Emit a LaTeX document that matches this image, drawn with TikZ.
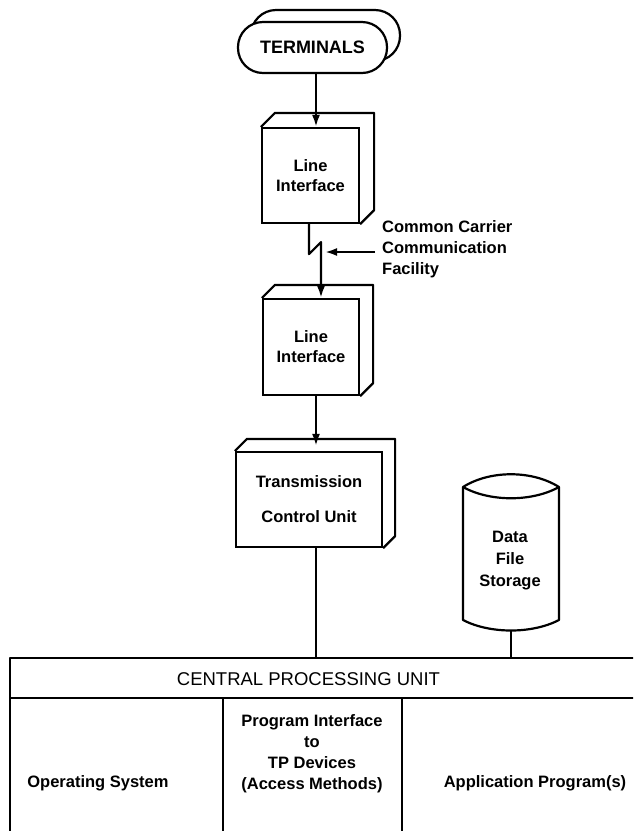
\documentclass[tikz,border=0pt]{standalone}
\usepackage{fontspec}
\setmainfont{Liberation Sans}
\usepackage{tikz}
\usetikzlibrary{arrows.meta}
\tikzset{
    edge/.style={line width=2.2pt, line join=round},
    cube/.style={rectangle, draw, line width=2.2pt, fill=white, inner sep=0pt, align=center, font=\bfseries\fontsize{16.5}{20}\selectfont},
    termbox/.style={rectangle, draw, line width=2.2pt, fill=white, rounded corners=25pt, minimum width=149pt, minimum height=51pt, font=\bfseries\fontsize{18}{20}\selectfont},
    labelstyle/.style={align=center, inner sep=0pt, font=\bfseries\fontsize{16.5}{21}\selectfont},
    cpulabel/.style={inner sep=0pt, font=\fontsize{18.5}{21}\selectfont},
    arrow/.style={edge, -{Latex[length=12pt, width=8pt]}},
}
\begin{document}
\begin{tikzpicture}[x=1pt, y=-1pt]

    \path[use as bounding box] (0,0) rectangle (633,831);
    \clip (0,0) rectangle (633,831);

    % Nodes
    \node[termbox] (termback) at (325.5,35.5) {};
    \node[termbox] (term) at (312.5,47.5) {TERMINALS};
    \node[cube, minimum width=97pt, minimum height=95pt] (li1) at (310.5,175.5) {Line\\Interface};
    \node[cube, minimum width=96pt, minimum height=96pt] (li2) at (311,347) {Line\\Interface};
    \node[cube, minimum width=146pt, minimum height=95pt] (tcu) at (309,499.5) {Transmission\\[15pt]Control Unit};
    \node[labelstyle, align=left, anchor=west] (carrier) at (382,249) {Common Carrier\\Communication\\Facility};

    % Depth of the boxes
    \foreach \b/\d in {li1/14, li2/13, tcu/12}
        \draw[edge] (\b.north west) -- ++(\d,-\d) -- ([shift={(\d,-\d)}]\b.north east) -- ([shift={(\d,-\d)}]\b.south east) -- (\b.south east);

    % Storage drum
    \draw[edge, fill=white] (463,487) .. controls (490,470) and (532,470) .. (559,487) -- (559,620) .. controls (532,634) and (490,634) .. (463,620) -- cycle;
    \draw[edge] (463,487) .. controls (490,502) and (532,502) .. (559,487);
    \node[labelstyle, font=\bfseries\fontsize{16.5}{22}\selectfont] (storage) at (510,561) {Data\\File\\Storage};
    \coordinate (dsbot) at (511,631);

    % CPU
    \coordinate (cputop) at (10,658);
    \draw[edge] (10,850) -- (cputop) -- (650,658);
    \draw[edge] (10,698) -- (650,698);
    \draw[edge] (223,698) -- (223,850);
    \draw[edge] (402,698) -- (402,850);
    \node[cpulabel] (cpu) at (308.5,679) {CENTRAL PROCESSING UNIT};
    \node[labelstyle] (os) at (98,783) {Operating System};
    \node[labelstyle] (access) at (312,753.5) {Program Interface\\to\\TP Devices\\(Access Methods)};
    \node[labelstyle] (app) at (535,783) {Application Program(s)};

    % Arrows
    \draw[arrow] ([xshift=3.5pt]term.south) -- ([xshift=3.5pt]term.south |- li1.north);
    \draw[arrow] ([xshift=-1.5pt]li1.south) -- ++(0,30) -- ++(12,-12) coordinate (brk) -- (brk |- li2.north);
    \draw[arrow] ([xshift=-7pt,yshift=-3pt]carrier.west) -- ([xshift=4pt,yshift=-3pt]brk |- carrier.west);
    \draw[arrow] ([xshift=5pt]li2.south) -- ([xshift=5pt,yshift=5pt]li2.south |- tcu.north);
    \draw[edge] ([xshift=7pt]tcu.south) -- ([xshift=7pt]tcu.south |- cputop);
    \draw[edge] (dsbot) -- (dsbot |- cputop);

\end{tikzpicture}
\end{document}
